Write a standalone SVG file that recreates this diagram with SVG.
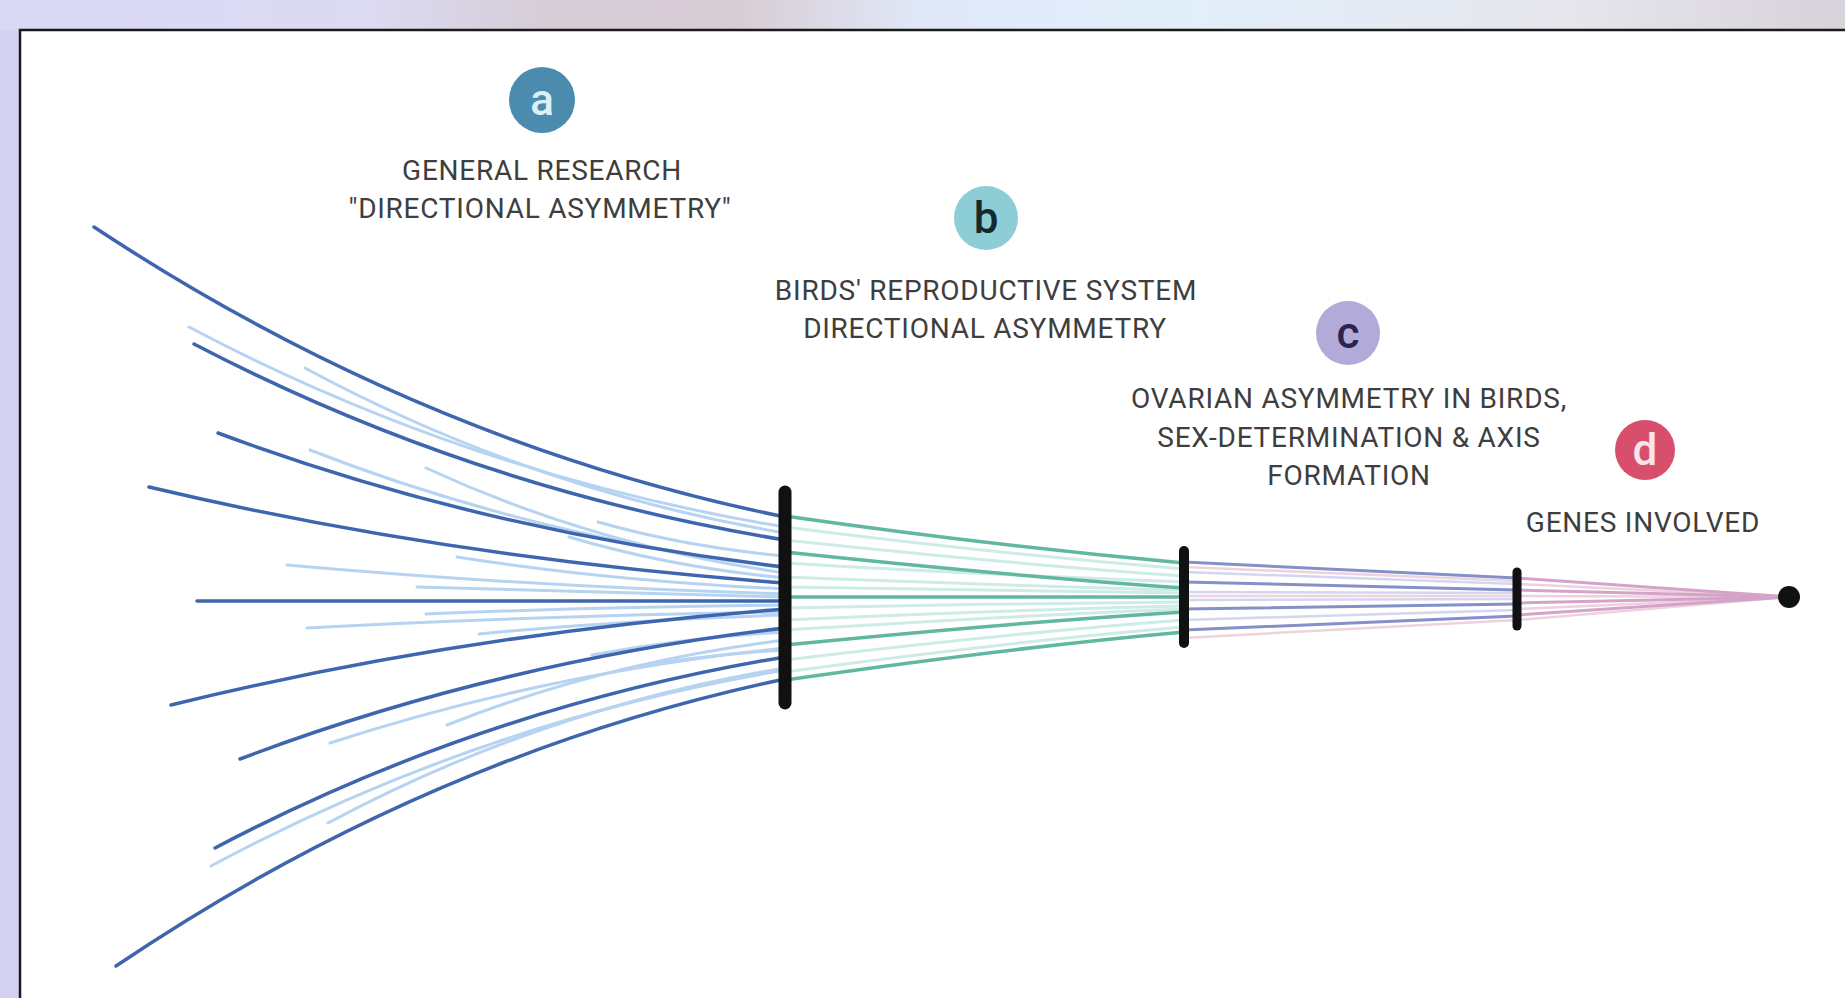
<svg xmlns="http://www.w3.org/2000/svg" width="1845" height="998" viewBox="0 0 1845 998">
  <defs>
    <linearGradient id="topbg" x1="0" y1="0" x2="1" y2="0">
      <stop offset="0" stop-color="#d9d8f5"/>
      <stop offset="0.2" stop-color="#dcdaf2"/>
      <stop offset="0.3" stop-color="#d6ccd6"/>
      <stop offset="0.4" stop-color="#d8cdd5"/>
      <stop offset="0.5" stop-color="#e0e8f8"/>
      <stop offset="0.65" stop-color="#e2eefa"/>
      <stop offset="0.85" stop-color="#e6e6ec"/>
      <stop offset="1" stop-color="#d8d2da"/>
    </linearGradient>
    <style>
      .lbl{font-family:Roboto,"Liberation Sans",sans-serif;font-size:28px;letter-spacing:0.75px;fill:#3e3e3e;text-anchor:middle}
      .let{font-family:Roboto,"Liberation Sans",sans-serif;font-size:44px;font-weight:500;text-anchor:middle}
      .dk{fill:none;stroke:#3e66ae;stroke-width:3.5;stroke-linecap:round}
      .lt{fill:none;stroke:#b6d4f1;stroke-width:3;stroke-linecap:round}
      .tk{fill:none;stroke:#62b7a2;stroke-width:3.5;stroke-linecap:round}
      .tl{fill:none;stroke:#cdece4;stroke-width:3;stroke-linecap:round}
      .pd{fill:none;stroke:#8590c8;stroke-width:3;stroke-linecap:round}
      .pl{fill:none;stroke:#d4d6f0;stroke-width:2.5;stroke-linecap:round}
      .pp{fill:none;stroke:#edd3df;stroke-width:2.5;stroke-linecap:round}
      .kd{fill:none;stroke:#d3a3c8;stroke-width:3;stroke-linecap:round}
      .kl{fill:none;stroke:#f0cfe0;stroke-width:2.5;stroke-linecap:round}
      .bar{stroke:#111;stroke-linecap:round}
    </style>
  </defs>
  <rect x="0" y="0" width="1845" height="998" fill="#d5d1f3"/>
  <rect x="0" y="0" width="1845" height="30" fill="url(#topbg)"/>
  <rect x="20" y="30" width="1840" height="980" fill="#ffffff" stroke="#1a1a1a" stroke-width="2.5"/>

  <g id="connectors">
    <!-- left section light -->
    <path class="lt" d="M189,327 Q469,475 785,527"/>
    <path class="lt" d="M305,368 Q531,490 785,533"/>
    <path class="lt" d="M310,450 Q533,537 785,568"/>
    <path class="lt" d="M426,468 Q595,546 785,573"/>
    <path class="lt" d="M569,537 Q670,567 785,578"/>
    <path class="lt" d="M598,522 Q686,547 785,556"/>
    <path class="lt" d="M457,557 Q611,581 785,589"/>
    <path class="lt" d="M287,565 Q521,586 785,594"/>
    <path class="lt" d="M417,587 L785,597"/>
    <path class="lt" d="M426,614 Q595,607 785,605"/>
    <path class="lt" d="M307,628 Q532,616 785,612"/>
    <path class="lt" d="M479,634 Q623,620 785,615"/>
    <path class="lt" d="M592,655 Q683,638 785,632"/>
    <path class="lt" d="M620,670 Q698,655 785,650"/>
    <path class="lt" d="M447,725 Q606,662 785,640"/>
    <path class="lt" d="M330,743 Q544,673 785,648"/>
    <path class="lt" d="M328,823 Q543,708 785,668"/>
    <path class="lt" d="M211,866 Q481,721 785,670"/>
    <!-- left section dark -->
    <path class="dk" d="M94,227 Q419,442 785,517"/>
    <path class="dk" d="M194,344 Q472,489 785,540"/>
    <path class="dk" d="M218,433 Q484,532 785,567"/>
    <path class="dk" d="M149,487 Q448,558 785,583"/>
    <path class="dk" d="M197,601 L785,601"/>
    <path class="dk" d="M171,705 Q460,634 785,609"/>
    <path class="dk" d="M240,759 Q496,662 785,628"/>
    <path class="dk" d="M215,848 Q483,707 785,657"/>
    <path class="dk" d="M116,966 Q430,754 785,679"/>
    <!-- middle section -->
    <path class="tl" d="M785,527 C917,544 1052,558 1184,569"/>
    <path class="tl" d="M785,540 C917,554 1052,567 1184,576"/>
    <path class="tl" d="M785,563 C917,571 1052,577 1184,582"/>
    <path class="tl" d="M785,577 C917,582 1052,587 1184,590"/>
    <path class="tl" d="M785,587 C917,589 1052,591 1184,593"/>
    <path class="tl" d="M785,608 C917,605 1052,603 1184,602"/>
    <path class="tl" d="M785,620 C917,614 1052,609 1184,606"/>
    <path class="tl" d="M785,630 C917,622 1052,614 1184,609"/>
    <path class="tl" d="M785,660 C917,644 1052,630 1184,620"/>
    <path class="tl" d="M785,672 C917,654 1052,638 1184,627"/>
    <path class="tk" d="M785,516 C917,535 1052,551 1184,563"/>
    <path class="tk" d="M785,552 C917,566 1052,579 1184,588"/>
    <path class="tk" d="M785,597 L1184,597"/>
    <path class="tk" d="M785,645 C917,632 1052,620 1184,612"/>
    <path class="tk" d="M785,680 C917,661 1052,644 1184,632"/>
    <!-- right section -->
    <path class="pp" d="M1184,567 L1517,581"/>
    <path class="pp" d="M1184,596 L1517,596"/>
    <path class="pp" d="M1184,638 L1517,620"/>
    <path class="pl" d="M1184,572 L1517,584"/>
    <path class="pl" d="M1184,592 L1517,593"/>
    <path class="pl" d="M1184,600 L1517,599"/>
    <path class="pl" d="M1184,620 L1517,610"/>
    <path class="pd" d="M1184,562 L1517,578"/>
    <path class="pd" d="M1184,582 L1517,590"/>
    <path class="pd" d="M1184,609 L1517,604"/>
    <path class="pd" d="M1184,630 L1517,616"/>
    <!-- final section -->
    <path class="kl" d="M1517,584 L1789,597"/>
    <path class="kl" d="M1517,596 L1789,597"/>
    <path class="kl" d="M1517,609 L1789,597"/>
    <path class="kl" d="M1517,620 L1789,597"/>
    <path class="kd" d="M1517,578 L1789,597"/>
    <path class="kd" d="M1517,590 L1789,597"/>
    <path class="kd" d="M1517,603 L1789,597"/>
    <path class="kd" d="M1517,615 L1789,597"/>
    <!-- bars and end -->
    <line class="bar" x1="785" y1="492" x2="785" y2="703" stroke-width="13"/>
    <line class="bar" x1="1184" y1="551" x2="1184" y2="643" stroke-width="10"/>
    <line class="bar" x1="1517" y1="572" x2="1517" y2="626" stroke-width="9"/>
    <circle cx="1789" cy="597" r="11" fill="#111"/>
  </g>

  <g id="node-a">
    <circle cx="542" cy="100" r="33" fill="#4a8bae"/>
    <text class="let" x="542" y="115" fill="#dbeff4">a</text>
    <text class="lbl" x="542" y="180">GENERAL RESEARCH</text>
    <text class="lbl" x="540" y="218">"DIRECTIONAL ASYMMETRY"</text>
  </g>
  <g id="node-b">
    <circle cx="986" cy="218" r="32" fill="#8dcdd6"/>
    <text class="let" x="986" y="233" fill="#16282e">b</text>
    <text class="lbl" x="986" y="300">BIRDS' REPRODUCTIVE SYSTEM</text>
    <text class="lbl" x="985" y="338">DIRECTIONAL ASYMMETRY</text>
  </g>
  <g id="node-c">
    <circle cx="1348" cy="333" r="32" fill="#b2aad8"/>
    <text class="let" x="1348" y="348" fill="#2b2350">c</text>
    <text class="lbl" x="1349" y="408">OVARIAN ASYMMETRY IN BIRDS,</text>
    <text class="lbl" x="1349" y="447">SEX-DETERMINATION &amp; AXIS</text>
    <text class="lbl" x="1349" y="485">FORMATION</text>
  </g>
  <g id="node-d">
    <circle cx="1645" cy="450" r="30" fill="#d74f6c"/>
    <text class="let" x="1645" y="465" fill="#fbe4e8">d</text>
    <text class="lbl" x="1643" y="532">GENES INVOLVED</text>
  </g>
</svg>
